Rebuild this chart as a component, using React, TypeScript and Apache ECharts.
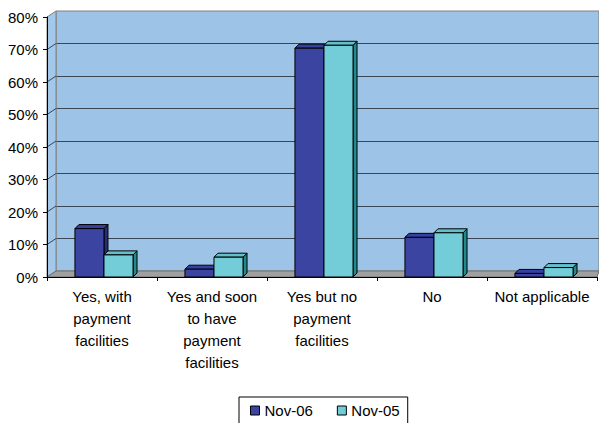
import React, { useEffect, useRef } from "react";
import * as echarts from "echarts";

const categories = [
  "Yes, with\npayment\nfacilities",
  "Yes and soon\nto have\npayment\nfacilities",
  "Yes but no\npayment\nfacilities",
  "No",
  "Not applicable",
];
const seriesNames = ["Nov-06", "Nov-05"];
const nov06 = [14.9, 2.4, 70.4, 12.2, 1.1];
const nov05 = [6.8, 6.1, 71.3, 13.6, 2.9];
const yMin = 0;
const yMax = 80;
const yStep = 10;

const FONT = "'Liberation Sans', Arial, sans-serif";
const WALL = "#9DC3E6";
const GRIDLINE = "#3A4656";

const palettes = [
  { front: "#3B44A0", top: "#3640A0", side: "#262E78" },
  { front: "#72CDD8", top: "#62C0CA", side: "#23898C" },
];

function makeRender(k: number) {
  const c = palettes[k];
  return (params: any, api: any) => {
    const i = api.value(0);
    const v = api.value(1);
    const base = api.coord([i, 0]);
    const top = api.coord([i, v]);
    const band = api.size([1, 0])[0];
    const w = band * 0.264;
    const shift = band * 0.018;
    const x0 = base[0] + shift + (k === 0 ? -w : 0);
    const x1 = x0 + w;
    const yb = base[1];
    const yt = top[1];
    const dx = 4;
    const dy = 4;
    return {
      type: "group",
      children: [
        {
          type: "polygon",
          shape: { points: [[x1, yt], [x1 + dx, yt - dy], [x1 + dx, yb - dy], [x1, yb]] },
          style: { fill: c.side, stroke: "#000", lineWidth: 1 },
        },
        {
          type: "polygon",
          shape: { points: [[x0, yt], [x0 + dx, yt - dy], [x1 + dx, yt - dy], [x1, yt]] },
          style: { fill: c.top, stroke: "#000", lineWidth: 1 },
        },
        {
          type: "rect",
          shape: { x: x0, y: yt, width: w, height: yb - yt },
          style: { fill: c.front, stroke: "#000", lineWidth: 1 },
        },
      ],
    };
  };
}

export default function App() {
  const ref = useRef<HTMLDivElement>(null);
  useEffect(() => {
    if (!ref.current) return;
    const chart = echarts.init(ref.current, null, { renderer: "svg" });
    const option: any = {
      animation: false,
      textStyle: { fontFamily: FONT },
      grid: [
        { left: 47, right: 2, top: 17, bottom: 146, z: 2 },
        {
          left: 56, right: 0, top: 11, bottom: 152, show: true,
          backgroundColor: WALL, borderColor: "#808080", borderWidth: 1, z: 0,
        },
      ],
      xAxis: [
        {
          type: "category",
          gridIndex: 0,
          data: categories,
          z: 4,
          axisLine: { show: true, lineStyle: { color: "#000", width: 1 } },
          axisTick: { show: true, length: 4, interval: 0, lineStyle: { color: "#000" } },
          axisLabel: {
            interval: 0, color: "#000", fontSize: 15, lineHeight: 22, margin: 8, fontFamily: FONT,
          },
        },
        { type: "value", gridIndex: 1, show: false, min: 0, max: 1 },
      ],
      yAxis: [
        {
          type: "value",
          gridIndex: 0,
          min: yMin, max: yMax, interval: yStep,
          z: 4,
          axisLine: { show: true, lineStyle: { color: "#000", width: 1 } },
          axisTick: { show: true, length: 4, lineStyle: { color: "#000" } },
          axisLabel: { color: "#000", fontSize: 15, margin: 9, fontFamily: FONT, formatter: (v: number) => v + "%" },
          splitLine: { show: false },
        },
        {
          type: "value",
          gridIndex: 1,
          min: yMin, max: yMax, interval: yStep,
          axisLine: { show: false },
          axisTick: { show: false },
          axisLabel: { show: false },
          splitLine: { show: true, showMaxLine: false, showMinLine: false, lineStyle: { color: GRIDLINE, width: 1 } },
        },
      ],
      legend: {
        left: 239,
        top: 397,
        icon: "rect",
        itemWidth: 9,
        itemHeight: 9,
        itemGap: 24,
        padding: [6, 8, 8, 11],
        borderColor: "#000",
        borderWidth: 1,
        textStyle: { color: "#000", fontSize: 15, fontFamily: FONT },
        data: seriesNames.map((n, k) => ({
          name: n,
          itemStyle: { color: palettes[k].front, borderColor: "#000", borderWidth: 1 },
        })),
      },
      series: [nov06, nov05].map((arr, k) => ({
        type: "custom",
        name: seriesNames[k],
        xAxisIndex: 0,
        yAxisIndex: 0,
        z: 3,
        itemStyle: { color: palettes[k].front },
        renderItem: makeRender(k),
        encode: { x: 0, y: 1 },
        data: arr.map((v, i) => [i, v]),
      })),
    };
    chart.setOption(option);

    const yp = (v: number) => chart.convertToPixel({ yAxisIndex: 0 }, v) as number;
    const xl = 47;
    const xw = 56;
    const dy = 6;
    const y0 = yp(yMin);
    const yTop = yp(yMax);
    const graphics: any[] = [
      {
        type: "polygon",
        z: 1,
        shape: { points: [[xl, y0], [xl, yTop], [xw, yTop - dy], [xw, y0 - dy]] },
        style: { fill: "#A3C8EA", stroke: "#808080", lineWidth: 1 },
      },
      {
        type: "polygon",
        z: 1,
        shape: { points: [[xl, y0], [xw, y0 - dy], [599, y0 - dy], [597, y0]] },
        style: { fill: "#A0A0A0", stroke: "#6E6E6E", lineWidth: 1 },
      },
    ];
    for (let v = yMin + yStep; v < yMax; v += yStep) {
      const y = yp(v);
      graphics.push({
        type: "line",
        z: 1,
        shape: { x1: xl, y1: y, x2: xw, y2: y - dy },
        style: { stroke: GRIDLINE, lineWidth: 1 },
      });
    }
    chart.setOption({ graphic: graphics });
    return () => chart.dispose();
  }, []);
  return (
    <div
      ref={ref}
      style={{ position: "absolute", left: 0, top: 0, width: 599, height: 423 }}
    />
  );
}
